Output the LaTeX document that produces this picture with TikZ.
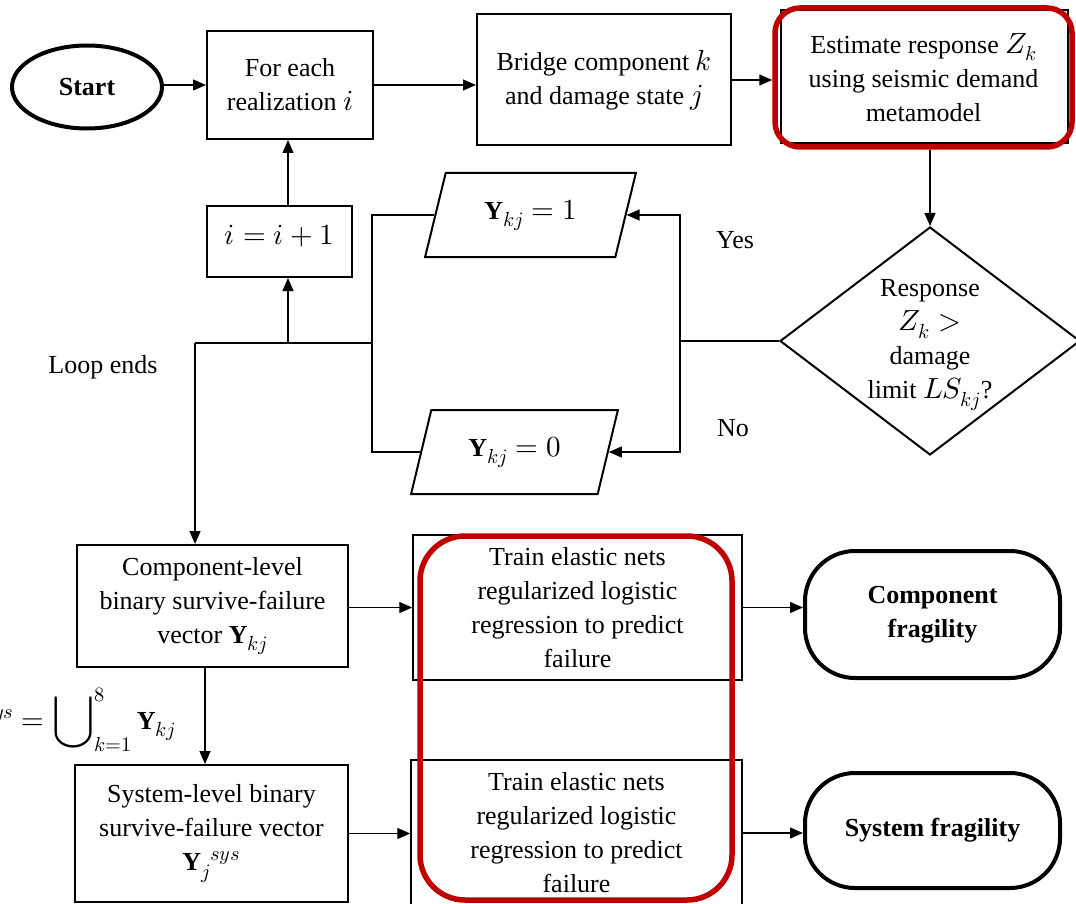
\documentclass[tikz,border=0pt]{standalone}
\usepackage{graphicx}
\usepackage{fontspec}
\usepackage{unicode-math}
\setmainfont{Liberation Serif}
\setmathfont{Latin Modern Math}[Scale=1.12]
\usetikzlibrary{arrows.meta,shapes.geometric}
\definecolor{darkred}{RGB}{192,0,0}
\newcommand{\bigunion}{\mathop{\vcenter{\hbox{\scalebox{1.3}{$\displaystyle\bigcup$}}}}\nolimits}
\tikzset{
  txt/.style={font=\fontsize{26}{34}\selectfont, align=center, inner sep=0pt},
  box/.style={draw, line width=2pt, rectangle, txt},
  terminal/.style={draw, line width=4pt, rounded corners=50pt, txt, font=\fontsize{26}{34}\selectfont\bfseries},
  slanted/.style={draw, line width=2pt, trapezium, trapezium left angle=70, trapezium right angle=110, trapezium stretches=true, txt},
  conn/.style={line width=1.3pt},
  arr/.style={conn, -{Triangle[length=13pt,width=11pt]}},
  hilite/.style={draw=darkred, line width=5.5pt},
}
\begin{document}
\begin{tikzpicture}[x=1pt,y=-1pt]
\useasboundingbox (0,0) rectangle (1076,904);
\clip (0,0) rectangle (1076,904);

% --- top row ---
\node[draw, ellipse, line width=4pt, minimum width=150pt, minimum height=83pt, txt, font=\fontsize{26}{34}\selectfont\bfseries] (start) at (87,87) {Start};
\node[box, minimum width=166pt, minimum height=108pt] (each) at (290,85) {For each\\realization $i$};
\node[box, minimum width=254pt, minimum height=131pt] (bridge) at (604,80) {Bridge component $k$\\and damage state $j$};
\node[box, minimum width=287pt, minimum height=133pt] (est) at (924.5,76.5) {};
\node[hilite, rectangle, rounded corners=25pt, minimum width=297pt, minimum height=139pt, txt] (estred) at (923.5,77.5) {Estimate response $Z_k$\\using seismic demand\\metamodel};

\draw[arr] (start.east |- each.west) -- (each.west);
\draw[arr] (each.east) -- (each.east -| bridge.west);
\draw[arr] (bridge.east) -- (bridge.east -| estred.west);

% --- decision ---
\node[draw, diamond, line width=2pt, minimum width=300pt, minimum height=228pt, inner sep=0pt] (dia) at (930,341) {};
\node[txt] (diatext) at (930,345) {Response\\$Z_k >$\\damage\\limit $LS_{kj}$?};
\draw[arr] (estred.south -| dia.north) -- (dia.north);

\node[slanted, minimum width=211pt, minimum height=84pt] (par1) at (530.5,215) {$\mathbf{Y}_{kj} = 1$};
\node[slanted, minimum width=207pt, minimum height=84pt] (par2) at (514.5,452) {$\mathbf{Y}_{kj} = 0$};

\coordinate (jr) at (680,341);
\coordinate (jl) at (372,343);
\coordinate (jup) at (288,343);
\coordinate (jend) at (195,343);

\draw[conn] (dia.west) -- (jr);
\draw[arr] (jr) |- (par1.east);
\draw[arr] (jr) |- (par2.east);
\node[txt] (yes) at (735,240) {Yes};
\node[txt] (no) at (733,428) {No};

\draw[conn] (par1.west) -| (jl) |- (par2.west);
\draw[conn] (jl) -- (jend);

% --- counter ---
\node[box, minimum width=145pt, minimum height=71pt, text depth=14pt] (inc) at (279.5,241.5) {$i = i + 1$};
\draw[arr] (jup) -- (jup |- inc.south);
\draw[arr] (inc.north -| jup) -- (jup |- each.south);

\node[txt] (loopends) at (103,367) {Loop ends};

% --- vectors ---
\node[box, minimum width=271pt, minimum height=122pt] (comp) at (212.5,606) {Component-level\\binary survive-failure\\vector $\mathbf{Y}_{kj}$};
\node[box, minimum width=273pt, minimum height=137pt] (sysb) at (211.5,833.5) {System-level binary\\survive-failure vector\\$\mathbf{Y}_j{}^{sys}$};
\draw[arr] (jend) -- (jend |- comp.north);

\coordinate (kx) at (205,0);
\draw[arr] (comp.south -| kx) -- (sysb.north -| kx);
\node[txt, anchor=east] (union) at (176,720) {$\mathbf{Y}_j{}^{sys} = \bigunion_{k=1}^{8}\mathbf{Y}_{kj}$};

% --- training ---
\node[box, line width=1.5pt, minimum width=329pt, minimum height=145pt] (train1) at (577.5,607.5) {Train elastic nets\\regularized logistic\\regression to predict\\failure};
\node[box, line width=1.5pt, minimum width=331pt, minimum height=146pt] (train2) at (576.5,833) {Train elastic nets\\regularized logistic\\regression to predict\\failure};
\node[hilite, rectangle, rounded corners=45pt, minimum width=312pt, minimum height=364pt] (trainred) at (576,718) {};

\draw[arr] (comp.east |- train1.west) -- (train1.west);
\draw[arr] (sysb.east) -- (sysb.east -| train2.west);

% --- results ---
\node[terminal, minimum width=255pt, minimum height=127pt] (compfrag) at (932.5,614.5) {Component\\fragility};
\node[terminal, minimum width=255pt, minimum height=115pt] (sysfrag) at (932.5,830.5) {System fragility};
\draw[arr] (train1.east) -- (train1.east -| compfrag.west);
\draw[arr] (train2.east) -- (train2.east -| sysfrag.west);
\end{tikzpicture}
\end{document}
